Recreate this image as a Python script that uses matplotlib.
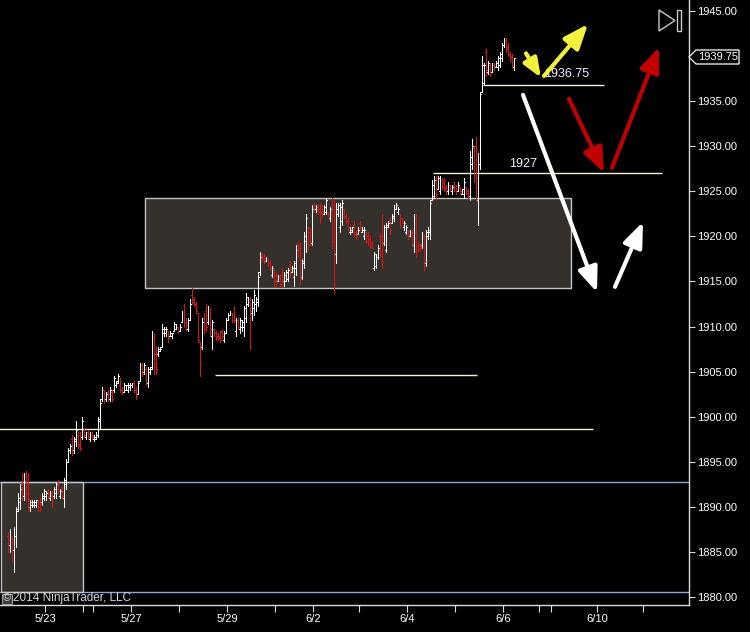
import matplotlib
matplotlib.use("Agg")
import matplotlib.pyplot as plt
from matplotlib.collections import LineCollection
from matplotlib.patches import Rectangle, Polygon
import numpy as np

plt.rcParams['font.family'] = ['Liberation Sans', 'DejaVu Sans']

# hourly OHLC bars (ES)
bar_open = [
    1886.75, 1885.75, 1886.5, 1885.25, 1886.75, 1889.75, 1890.5, 1892.5, 1891.25, 1893.5,
    1891.5, 1890.0, 1890.25, 1890.25, 1890.25, 1890.5, 1890.5, 1890.5, 1891.0, 1891.25,
    1891.75, 1891.0, 1891.5, 1891.25, 1891.5, 1892.75, 1891.25, 1892.0, 1891.0, 1892.5,
    1895.0, 1896.25, 1897.5, 1896.25, 1897.25, 1898.0, 1897.0, 1897.75, 1898.75, 1897.75,
    1898.25, 1897.5, 1898.0, 1897.5, 1897.5, 1898.0, 1899.5,
    1902.0, 1903.0, 1902.0, 1902.75, 1902.0, 1902.75, 1903.0, 1903.5, 1904.0, 1903.5,
    1903.0, 1902.75, 1903.0, 1903.0, 1903.25, 1903.5, 1903.75, 1903.0, 1902.5, 1904.0,
    1905.75, 1905.0, 1905.25, 1903.75, 1905.0, 1905.5, 1908.75, 1907.0, 1907.0, 1907.25,
    1907.75, 1909.25, 1909.25, 1909.5, 1909.0, 1909.0, 1909.5, 1909.75, 1910.0, 1909.5,
    1910.5, 1911.5, 1910.5, 1909.75, 1910.75, 1913.5, 1913.0, 1912.5, 1911.5, 1908.25,
    1907.75, 1911.0, 1911.75, 1910.5, 1911.5, 1909.0, 1909.75, 1909.25, 1909.0, 1909.0,
    1909.5, 1908.5, 1909.25, 1910.75, 1911.25, 1911.5, 1911.25, 1909.5, 1910.75, 1909.75,
    1910.0, 1910.0, 1911.0, 1912.5, 1913.0, 1911.5, 1912.0, 1912.5, 1912.75, 1916.0,
    1918.0, 1917.75, 1917.25, 1917.5, 1917.0, 1915.75, 1916.0, 1915.75, 1915.0, 1915.5,
    1915.75, 1915.0, 1915.0, 1915.25, 1916.75, 1916.0, 1915.5, 1916.5, 1919.0, 1918.75,
    1915.5, 1917.0, 1919.5, 1921.0, 1920.5, 1919.25, 1923.5, 1923.0, 1923.25, 1923.0,
    1922.75, 1922.5, 1922.75, 1922.75, 1922.0, 1923.5, 1919.5, 1918.0, 1922.5, 1921.0,
    1921.75, 1923.0, 1922.25, 1921.75, 1920.5, 1920.5, 1921.25, 1920.5, 1920.25, 1921.5,
    1920.5, 1920.0, 1920.5, 1920.0, 1919.75, 1919.25, 1916.5, 1916.75, 1917.75, 1920.0,
    1920.0, 1919.25, 1918.5, 1921.0, 1921.75, 1921.5, 1922.0, 1923.0, 1922.75, 1922.5,
    1922.0, 1921.0, 1920.5, 1920.75, 1920.0, 1920.5, 1919.0, 1922.0, 1919.0, 1919.25,
    1919.0, 1920.0, 1917.0, 1920.0,
    1920.5, 1924.0, 1924.5, 1926.5, 1925.25, 1925.0, 1926.25, 1926.0, 1925.5, 1925.0,
    1925.75, 1925.0, 1925.75, 1925.5, 1925.0, 1925.5, 1924.75, 1924.75, 1925.5, 1925.0,
    1924.5, 1928.0, 1929.75, 1930.0, 1924.0, 1928.0, 1936.0, 1937.0, 1940.5, 1938.25,
    1939.0, 1938.25, 1939.0, 1938.75, 1938.75, 1939.0, 1939.75, 1941.25, 1941.75, 1941.0,
    1940.25, 1940.0, 1938.75,
]
bar_high = [
    1887.25, 1887.5, 1886.75, 1887.75, 1890.0, 1891.5, 1892.5, 1893.75, 1893.75, 1894.0,
    1893.75, 1890.75, 1890.75, 1890.75, 1890.75, 1890.75, 1891.0, 1891.5, 1892.0, 1891.75,
    1892.0, 1891.75, 1891.75, 1892.25, 1892.75, 1893.0, 1892.0, 1892.25, 1893.25, 1895.25,
    1896.5, 1897.0, 1898.0, 1897.75, 1899.5, 1898.25, 1898.25, 1900.0, 1898.75, 1898.25,
    1898.5, 1898.25, 1898.25, 1898.0, 1898.25, 1900.0, 1902.0,
    1903.25, 1903.0, 1902.75, 1903.0, 1903.25, 1903.0, 1904.5, 1904.0, 1904.75, 1904.25,
    1903.25, 1903.75, 1903.5, 1903.75, 1903.75, 1903.75, 1904.0, 1903.25, 1904.0, 1906.0,
    1906.0, 1906.0, 1905.5, 1905.5, 1905.5, 1909.5, 1909.25, 1907.75, 1907.75, 1907.75,
    1910.25, 1910.0, 1910.0, 1909.5, 1909.5, 1909.25, 1910.5, 1910.25, 1910.0, 1910.25,
    1911.75, 1912.5, 1911.0, 1911.0, 1913.0, 1914.25, 1913.25, 1912.75, 1911.5, 1908.25,
    1911.0, 1911.5, 1912.5, 1912.25, 1912.0, 1910.75, 1909.75, 1909.5, 1909.25, 1909.5,
    1909.75, 1909.5, 1911.0, 1911.5, 1911.75, 1911.5, 1912.25, 1911.0, 1911.0, 1911.0,
    1910.75, 1912.25, 1913.75, 1913.25, 1913.25, 1913.0, 1914.0, 1913.25, 1916.0, 1918.25,
    1918.0, 1918.0, 1917.75, 1917.5, 1917.25, 1916.75, 1916.25, 1916.0, 1915.75, 1915.75,
    1916.5, 1916.0, 1916.25, 1916.5, 1917.25, 1916.75, 1917.25, 1919.0, 1919.5, 1919.25,
    1917.5, 1920.5, 1922.5, 1921.0, 1921.0, 1923.5, 1923.75, 1923.5, 1923.5, 1923.75,
    1923.5, 1923.5, 1924.25, 1922.75, 1923.25, 1924.25, 1924.0, 1923.75, 1923.75, 1923.75,
    1924.0, 1923.0, 1922.5, 1922.0, 1921.0, 1921.0, 1921.75, 1920.75, 1921.0, 1921.75,
    1921.0, 1921.0, 1920.5, 1920.5, 1920.0, 1919.5, 1918.25, 1918.0, 1919.0, 1920.25,
    1922.5, 1921.25, 1921.5, 1921.75, 1922.0, 1922.5, 1923.5, 1923.75, 1923.25, 1922.5,
    1922.0, 1921.75, 1921.25, 1920.75, 1920.75, 1920.75, 1922.5, 1922.5, 1919.25, 1919.25,
    1920.5, 1920.25, 1920.75, 1921.0,
    1924.0, 1926.25, 1926.75, 1926.75, 1926.75, 1926.75, 1926.5, 1926.5, 1925.75, 1926.0,
    1925.75, 1925.75, 1926.0, 1925.75, 1926.0, 1925.5, 1925.25, 1926.5, 1925.5, 1925.25,
    1929.5, 1930.75, 1930.0, 1931.0, 1929.25, 1936.0, 1940.0, 1939.25, 1940.75, 1939.5,
    1939.25, 1939.25, 1939.25, 1939.5, 1940.0, 1940.5, 1941.5, 1942.0, 1942.0, 1941.5,
    1940.5, 1940.25, 1939.75,
]
bar_low = [
    1885.0, 1885.0, 1884.0, 1882.75, 1885.5, 1889.5, 1889.75, 1890.75, 1890.75, 1890.75,
    1889.5, 1889.5, 1890.0, 1890.0, 1890.0, 1889.5, 1889.5, 1890.25, 1890.75, 1890.75,
    1891.0, 1890.75, 1890.0, 1891.0, 1891.0, 1891.5, 1891.0, 1891.0, 1890.0, 1892.0,
    1895.0, 1896.0, 1895.75, 1896.0, 1896.75, 1896.5, 1896.25, 1897.5, 1897.75, 1897.5,
    1897.5, 1897.25, 1897.5, 1897.25, 1897.5, 1897.75, 1898.75,
    1901.75, 1901.5, 1901.75, 1901.75, 1901.75, 1901.75, 1902.75, 1903.25, 1903.75, 1902.75,
    1902.5, 1902.75, 1903.0, 1902.75, 1903.0, 1903.25, 1902.75, 1902.0, 1902.5, 1904.0,
    1904.5, 1904.75, 1903.5, 1903.25, 1904.75, 1905.25, 1904.75, 1904.75, 1906.75, 1907.25,
    1907.75, 1909.0, 1909.0, 1908.25, 1909.0, 1908.75, 1909.5, 1909.75, 1909.25, 1909.5,
    1910.5, 1910.0, 1909.5, 1909.5, 1910.75, 1912.5, 1912.25, 1911.5, 1908.25, 1904.5,
    1907.5, 1909.25, 1909.5, 1910.25, 1909.0, 1907.5, 1909.0, 1908.5, 1908.5, 1908.25,
    1908.75, 1908.25, 1909.25, 1910.75, 1911.25, 1910.5, 1910.5, 1909.0, 1909.75, 1909.25,
    1909.5, 1909.0, 1910.5, 1912.25, 1907.5, 1910.75, 1911.25, 1911.75, 1912.25, 1915.75,
    1917.25, 1917.0, 1917.25, 1916.75, 1916.25, 1915.5, 1914.5, 1914.5, 1915.0, 1914.5,
    1914.5, 1914.5, 1915.0, 1915.0, 1915.5, 1916.0, 1914.5, 1915.75, 1917.75, 1914.75,
    1915.25, 1916.5, 1918.25, 1918.5, 1919.0, 1919.0, 1922.75, 1922.75, 1922.5, 1921.5,
    1922.25, 1922.5, 1922.5, 1922.25, 1921.75, 1918.75, 1913.75, 1917.0, 1922.25, 1920.5,
    1921.25, 1922.0, 1921.5, 1920.75, 1920.25, 1920.5, 1920.0, 1919.75, 1920.25, 1920.75,
    1920.5, 1919.75, 1919.25, 1919.0, 1918.75, 1918.75, 1916.25, 1916.5, 1917.5, 1917.75,
    1916.5, 1919.0, 1918.25, 1921.0, 1920.25, 1921.5, 1921.75, 1923.0, 1922.5, 1921.0,
    1921.5, 1920.75, 1920.25, 1919.75, 1920.0, 1919.0, 1918.25, 1917.75, 1918.25, 1918.5,
    1918.75, 1916.25, 1916.75, 1919.75,
    1919.75, 1924.0, 1924.25, 1924.0, 1925.25, 1924.75, 1925.25, 1925.0, 1924.75, 1924.75,
    1925.0, 1924.75, 1925.0, 1924.75, 1925.0, 1924.75, 1924.75, 1924.25, 1924.75, 1924.25,
    1924.0, 1927.5, 1926.0, 1924.0, 1921.25, 1927.5, 1936.0, 1936.75, 1937.75, 1938.0,
    1937.75, 1938.25, 1938.5, 1938.75, 1938.5, 1938.75, 1939.5, 1941.0, 1940.5, 1940.0,
    1939.5, 1938.75, 1938.5,
]
bar_close = [
    1885.75, 1886.5, 1885.25, 1886.75, 1889.5, 1891.0, 1892.0, 1891.25, 1893.5, 1891.5,
    1890.0, 1890.5, 1890.5, 1890.5, 1890.75, 1890.0, 1889.75, 1891.25, 1891.75, 1891.5,
    1891.25, 1891.5, 1890.5, 1892.0, 1892.5, 1891.75, 1891.75, 1891.25, 1893.0, 1895.0,
    1896.25, 1896.75, 1896.0, 1897.5, 1898.5, 1896.75, 1896.5, 1899.5, 1898.0, 1898.25,
    1897.75, 1898.0, 1897.75, 1897.75, 1898.0, 1899.75, 1901.5,
    1903.0, 1902.0, 1902.5, 1902.0, 1903.0, 1902.0, 1904.25, 1903.75, 1904.5, 1903.0,
    1902.75, 1903.5, 1903.5, 1903.5, 1903.5, 1903.75, 1903.0, 1902.25, 1903.75, 1905.75,
    1904.75, 1905.75, 1903.75, 1905.25, 1905.25, 1908.75, 1905.5, 1905.25, 1907.5, 1907.5,
    1909.75, 1909.75, 1909.75, 1908.75, 1909.25, 1909.25, 1910.25, 1910.0, 1909.5, 1910.0,
    1911.5, 1910.5, 1909.75, 1910.75, 1912.5, 1912.75, 1912.5, 1911.75, 1908.5, 1906.0,
    1910.5, 1909.75, 1910.0, 1911.5, 1909.75, 1910.5, 1909.25, 1908.75, 1908.75, 1908.5,
    1909.0, 1909.25, 1910.75, 1911.25, 1911.5, 1910.75, 1910.75, 1910.75, 1910.0, 1910.75,
    1910.5, 1912.0, 1913.25, 1913.0, 1911.75, 1912.75, 1913.5, 1913.0, 1915.5, 1917.75,
    1917.5, 1917.25, 1917.5, 1917.0, 1916.5, 1916.5, 1915.0, 1915.0, 1915.5, 1914.75,
    1915.0, 1915.75, 1916.0, 1916.25, 1915.75, 1916.5, 1917.0, 1918.5, 1918.0, 1915.5,
    1917.25, 1920.0, 1922.0, 1919.0, 1919.25, 1923.0, 1923.0, 1923.25, 1922.75, 1922.0,
    1922.5, 1923.25, 1924.0, 1922.5, 1923.0, 1919.5, 1918.0, 1923.0, 1923.5, 1923.25,
    1923.75, 1922.25, 1921.75, 1921.0, 1920.75, 1921.0, 1920.25, 1920.0, 1920.75, 1921.0,
    1920.75, 1920.75, 1919.5, 1919.25, 1919.0, 1918.75, 1918.0, 1917.75, 1918.75, 1918.0,
    1917.25, 1921.0, 1921.25, 1921.5, 1920.75, 1922.25, 1923.0, 1923.5, 1923.0, 1921.25,
    1921.5, 1921.5, 1921.0, 1920.0, 1920.5, 1919.25, 1922.0, 1918.5, 1918.5, 1918.75,
    1920.0, 1917.0, 1920.5, 1920.75,
    1923.75, 1925.75, 1926.25, 1924.75, 1926.5, 1926.25, 1925.5, 1925.25, 1925.0, 1925.75,
    1925.25, 1925.5, 1925.25, 1925.0, 1925.75, 1925.0, 1925.25, 1926.0, 1924.75, 1924.5,
    1928.75, 1930.0, 1926.5, 1925.5, 1928.0, 1935.75, 1939.0, 1939.0, 1938.5, 1939.25,
    1938.0, 1939.0, 1938.75, 1939.25, 1939.75, 1940.25, 1941.25, 1941.75, 1940.75, 1940.25,
    1939.75, 1939.0, 1939.75,
]

# session ticks on the time axis (bar index) and their labels
day_ticks = [18.5, 37.5, 42.5, 61.5, 85.5, 109.5, 133.5, 152.5, 175.5,
             199.5, 223.5, 247.5, 265.5, 271.5, 294.5, 317.5]
day_labels = ['5/23', '', '', '5/27', '', '5/29', '', '6/2', '',
              '6/4', '', '6/6', '', '', '6/10', '']
price_ticks = np.arange(1880, 1946, 5)
last_price = 1939.75

# drawn zones: (x from, x to, low, high)
zone_upper = (68.5, 281.5, 1914.25, 1924.25)
zone_lower = (-3.7, 37.5, 1880.5, 1892.75)

# drawn horizontal levels: (price, x from, x to, color)
lvl_blue = '#8ea2d8'
lvl_cream = '#f4f0dc'
levels = [
    (1892.75, -5, 345, lvl_blue),
    (1880.5, -5, 345, lvl_blue),
    (1898.6, -5, 292.4, lvl_cream),
    (1904.6, 103.4, 234.4, lvl_cream),
    (1927.0, 212.4, 326.9, lvl_cream),
    (1936.75, 237.4, 297.9, lvl_cream),
]
level_text = [('1927', 257.6, 1928.05), ('1936.75', 279.1, 1938.0)]

# hand drawn arrows: (tail, tip, color, head scale)
arrows = [
    ((257.35, 1935.7), (294.35, 1913.8), '#ffffff', 20),
    ((303.35, 1914.4), (317.35, 1921.6), '#ffffff', 20),
    ((258.85, 1940.3), (266.35, 1937.6), '#f2f23c', 15),
    ((267.85, 1937.8), (289.85, 1943.55), '#f2f23c', 20),
    ((280.35, 1935.25), (297.85, 1927.05), '#c00000', 20),
    ((301.85, 1927.6), (325.35, 1941.0), '#c00000', 20),
]

W, H = 750, 632
fig = plt.figure(figsize=(W / 100, H / 100), dpi=100, facecolor='black')
ax = fig.add_axes([0, 27 / H, 689 / W, 605 / H])
ax.set_facecolor('black')
ax.set_xlim(-4.15, 340.35)
ax.set_ylim(1879.11, 1946.22)

# zones
for x0, x1, lo, hi in (zone_upper, zone_lower):
    ax.add_patch(Rectangle((x0, lo), x1 - x0, hi - lo, facecolor='#34302b',
                           edgecolor='none', zorder=1))
for price, x0, x1, c in levels:
    ax.plot([x0, x1], [price, price], color=c, lw=1.0, zorder=2,
            solid_capstyle='butt')
for x0, x1, lo, hi in (zone_upper, zone_lower):
    ax.add_patch(Rectangle((x0, lo), x1 - x0, hi - lo, facecolor='none',
                           edgecolor='#c4c4c4', lw=1.0, zorder=2.5))

# OHLC bars
n = min(len(bar_open), len(bar_high), len(bar_low), len(bar_close))
segs = []
cols = []
for i in range(n):
    c = '#ffffff' if bar_close[i] >= bar_open[i] else '#dc1414'
    segs.append([(i, bar_low[i]), (i, bar_high[i])])
    segs.append([(i - 0.5, bar_open[i]), (i, bar_open[i])])
    segs.append([(i, bar_close[i]), (i + 0.5, bar_close[i])])
    cols += [c, c, c]
ax.add_collection(LineCollection(segs, colors=cols, linewidths=0.72,
                                 antialiased=False, zorder=3))

for txt, x, y in level_text:
    ax.text(x, y, txt, color='#eef4ff', fontsize=9, ha='center', va='center',
            zorder=4)

for tail, tip, c, ms in arrows:
    ax.annotate('', xy=tip, xytext=tail, zorder=5,
                arrowprops=dict(arrowstyle='-|>,head_length=0.75,head_width=0.3',
                                color=c, lw=3.0, shrinkA=0, shrinkB=0,
                                mutation_scale=ms))

# axes styling
for s in ('left', 'top'):
    ax.spines[s].set_visible(False)
for s in ('right', 'bottom'):
    ax.spines[s].set_color('#dcdcdc')
    ax.spines[s].set_linewidth(1.0)
ax.yaxis.tick_right()
ax.set_yticks(price_ticks)
ax.set_yticklabels(['%.2f' % p for p in price_ticks])
ax.tick_params(axis='y', colors='#dcdcdc', labelcolor='white', labelsize=8,
               length=4.5, width=0.8, pad=1.5)
ax.set_xticks(day_ticks)
ax.set_xticklabels(day_labels)
ax.tick_params(axis='x', colors='#dcdcdc', labelcolor='white', labelsize=8,
               length=5, width=0.8, pad=1.5)


def fx(px):
    return px / W


def fy(py):
    return 1 - py / H


# last price marker on the price axis
marker = Polygon([(fx(689), fy(57)), (fx(696), fy(50)), (fx(739), fy(50)),
                  (fx(739), fy(64)), (fx(696), fy(64))], closed=True,
                 transform=fig.transFigure, facecolor='black', edgecolor='white',
                 lw=0.9, zorder=10)
fig.add_artist(marker)
fig.text(fx(698), fy(57), '%.2f' % last_price, color='white', fontsize=8,
         ha='left', va='center', zorder=11)

# play/end icon top right
fig.add_artist(Polygon([(fx(659), fy(10)), (fx(659), fy(31)), (fx(675), fy(20.5))],
                       closed=True, transform=fig.transFigure, facecolor='none',
                       edgecolor='#c8c8c8', lw=1.0))
fig.add_artist(Rectangle((fx(677), fy(31)), fx(4), 21 / H, transform=fig.transFigure,
                         facecolor='none', edgecolor='#c8c8c8', lw=1.0))

# copyright
fig.add_artist(Rectangle((fx(1.5), fy(603.5)), fx(10.5), 9.5 / H,
                         transform=fig.transFigure, facecolor='#3a3a3a',
                         edgecolor='#9a9a9a', lw=0.8))
fig.text(fx(6.8), fy(598.5), '\u00a9', color='#d8d8d8', fontsize=8,
         ha='center', va='center')
fig.text(fx(13), fy(598.5), '2014 NinjaTrader, LLC', color='#d8d8d8',
         fontsize=8.5, ha='left', va='center')

fig.savefig('out.png', dpi=100, facecolor='black')
